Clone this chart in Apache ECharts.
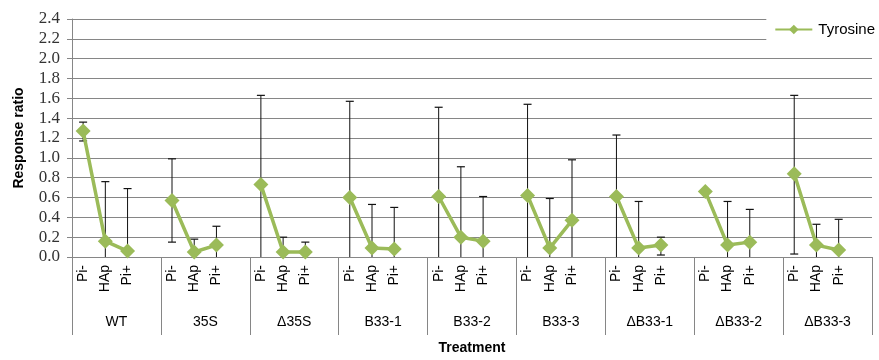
<!DOCTYPE html>
<html><head><meta charset="utf-8">
<script src="https://cdn.jsdelivr.net/npm/echarts@6/dist/echarts.min.js"></script>
<style>html,body{margin:0;padding:0;background:#fff}#c{width:879px;height:360px}</style>
</head><body><div id="c"></div>
<script>
const groups = ['WT','35S','Δ35S','B33-1','B33-2','B33-3','ΔB33-1','ΔB33-2','ΔB33-3'];
const treatments = ['Pi-','HAp','Pi+'];
const yTicks = {min:0, max:2.4, interval:0.2};
// Tyrosine response ratio per group [Pi-, HAp, Pi+]
const tyrosine = [
  [1.27,0.16,0.06],[0.57,0.05,0.12],[0.73,0.05,0.05],
  [0.60,0.09,0.08],[0.61,0.20,0.16],[0.62,0.09,0.37],
  [0.61,0.09,0.12],[0.66,0.12,0.15],[0.84,0.12,0.07]
];
const errUpper = [
  [1.36,0.76,0.69],[0.99,0.18,0.31],[1.63,0.20,0.15],
  [1.57,0.53,0.50],[1.51,0.91,0.61],[1.54,0.59,0.98],
  [1.23,0.56,0.20],[null,0.56,0.48],[1.63,0.33,0.38]
];
const errLower = [
  [1.17,0,0],[0.15,0,0],[0,0,0],
  [0,0,0],[0,0,0],[0,0,0],
  [0,0,0.02],[null,0,0],[0.03,0,0]
];

// Build category list: 3 treatments + one blank slot per group
const cats = [], lineData = [], errData = [];
groups.forEach((g, gi) => {
  treatments.forEach((t, ti) => {
    const idx = cats.length;
    cats.push(t);
    lineData.push(tyrosine[gi][ti]);
    if (errUpper[gi][ti] != null) errData.push([idx, errLower[gi][ti], errUpper[gi][ti]]);
  });
  cats.push('');
  lineData.push(null);
});

const chart = echarts.init(document.getElementById('c'), null, {renderer:'canvas'});
const axisGray = '#868686';
chart.setOption({
  animation:false,
  backgroundColor:'#fff',
  grid:{left:72, right:7, top:19, bottom:101},
  legend:{
    right:2, top:16, backgroundColor:'#fff', padding:[6,2,6,8],
    itemWidth:37, itemHeight:12, itemGap:4,
    textStyle:{fontFamily:'Liberation Sans', fontSize:15, color:'#000', padding:[0,0,0,1]},
    data:['Tyrosine']
  },
  xAxis:[{
    type:'category', data:cats, boundaryGap:true,
    axisLine:{lineStyle:{color:axisGray}},
    axisTick:{show:false},
    axisLabel:{interval:0, rotate:90, margin:8, fontFamily:'Liberation Sans', fontSize:14, color:'#000'}
  },{
    type:'category', data:groups, position:'bottom', boundaryGap:true,
    axisLine:{show:false},
    axisTick:{show:true, interval:0, length:78, lineStyle:{color:axisGray}},
    axisLabel:{interval:0, margin:58, fontFamily:'Liberation Sans', fontSize:14, color:'#000'},
    name:'Treatment', nameLocation:'middle', nameGap:84,
    nameTextStyle:{fontFamily:'Liberation Sans', fontWeight:'bold', fontSize:14, color:'#000'}
  }],
  yAxis:{
    type:'value', min:yTicks.min, max:yTicks.max, interval:yTicks.interval,
    axisLine:{show:true, lineStyle:{color:axisGray}},
    axisTick:{show:true, length:5, lineStyle:{color:axisGray}},
    splitLine:{lineStyle:{color:axisGray, width:1}},
    axisLabel:{formatter:v=>v.toFixed(1), margin:12, fontFamily:'Liberation Serif', fontSize:17, color:'#333'},
    name:'Response ratio', nameLocation:'middle', nameGap:46, nameRotate:90,
    nameTextStyle:{fontFamily:'Liberation Sans', fontWeight:'bold', fontSize:14, color:'#000'}
  },
  series:[{
    type:'custom', name:'err', xAxisIndex:0, z:1, silent:true,
    data:errData,
    renderItem:function(params, api){
      const x = api.coord([api.value(0), 0])[0];
      const lo = api.value(1), hi = api.value(2);
      const pLo = api.coord([api.value(0), lo]), pHi = api.coord([api.value(0), hi]);
      const cw = 4;
      const children = [
        {type:'line', shape:{x1:x, y1:pLo[1], x2:x, y2:pHi[1]}, style:{stroke:'#111', lineWidth:1}},
        {type:'line', shape:{x1:x-cw, y1:pHi[1], x2:x+cw, y2:pHi[1]}, style:{stroke:'#111', lineWidth:1.2}}
      ];
      if (lo > 0) children.push({type:'line', shape:{x1:x-cw, y1:pLo[1], x2:x+cw, y2:pLo[1]}, style:{stroke:'#111', lineWidth:1.2}});
      return {type:'group', children};
    }
  },{
    type:'line', name:'Tyrosine', xAxisIndex:0, z:3, data:lineData, connectNulls:false,
    symbol:'diamond', symbolSize:15, showAllSymbol:true,
    lineStyle:{color:'#9BBB59', width:3.5},
    itemStyle:{color:'#9BBB59'}
  }]
});
</script></body></html>
